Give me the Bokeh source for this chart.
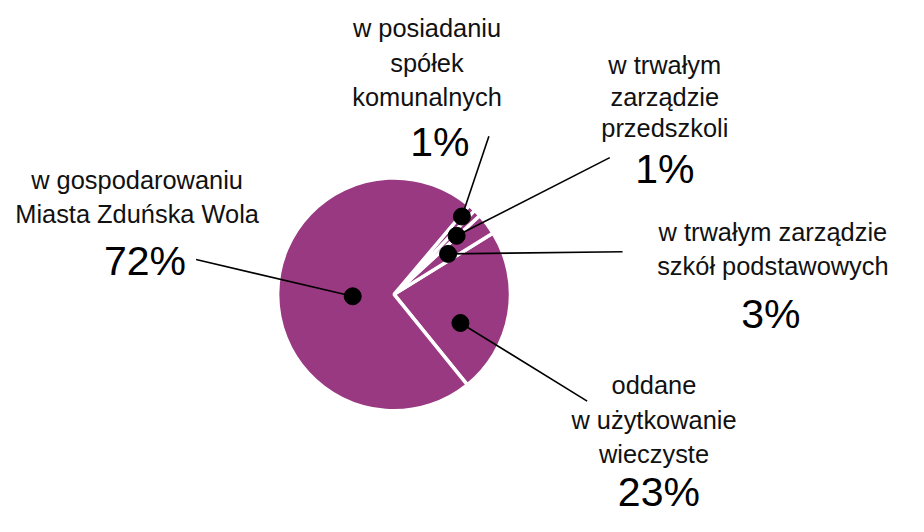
import numpy as np
from bokeh.plotting import figure
from bokeh.models import Range1d, ColumnDataSource
from bokeh.core.properties import value
from bokeh.embed import file_html
from bokeh.resources import INLINE

# ---------------- data ----------------
categories = [
    "oddane w użytkowanie wieczyste",
    "w trwałym zarządzie szkół podstawowych",
    "w trwałym zarządzie przedszkoli",
    "w posiadaniu spółek komunalnych",
    "w gospodarowaniu Miasta Zduńska Wola",
]
label_lines = [
    ["oddane", "w użytkowanie", "wieczyste"],
    ["w trwałym zarządzie", "szkół podstawowych"],
    ["w trwałym", "zarządzie", "przedszkoli"],
    ["w posiadaniu", "spółek", "komunalnych"],
    ["w gospodarowaniu", "Miasta Zduńska Wola"],
]
values = [23, 3, 1, 1, 72]
pct_labels = [f"{v}%" for v in values]

# ---------------- layout (reference pixels, 924 x 532 space) ----------------
W, H = 908, 516
RW, RH = 924, 532
def X(sx): return sx
def Y(sy): return RH - sy

CX, CY, R = 400.5, 303.0, 117.0
START_DEG = -51.0
COLOR = "#993981"
FONT = "Liberation Sans"
SMALL, BIG = "25.4px", "41px"
SMALL_SHIFT, BIG_SHIFT = 8.2, 14.4   # baseline correction of the text renderer

line_x = [665, 786, 676, 434, 139]
line_y0 = [405, 247, 75, 37, 193]
line_step = [35.5, 35, 32.5, 35.5, 35]
pct_x = [670, 784, 676, 447, 147]
pct_y = [521, 338, 188, 160, 283]
lead_x = [597, 633, 620, 497, 199]
lead_y = [413, 259, 162, 140, 267]
dot_off_deg = [-14.0, 0.0, -0.9, 1.3, 3.3]
dot_rfrac = [0.63, 0.59, 0.75, 0.905, 0.36]

# ---------------- geometry from data ----------------
vals = np.array(values, dtype=float)
frac = vals / vals.sum()
ends = np.deg2rad(START_DEG) + np.cumsum(frac) * 2 * np.pi
starts = ends - frac * 2 * np.pi
mids = (starts + ends) / 2

cx, cy = X(CX), Y(CY)
dang = mids + np.deg2rad(dot_off_deg)
dr = np.array(dot_rfrac) * R
dot_x = cx + dr * np.cos(dang)
dot_y = cy + dr * np.sin(dang)

p = figure(width=W, height=H, x_range=Range1d(0, RW), y_range=Range1d(0, RH),
           x_axis_type=None, y_axis_type=None, output_backend="svg",
           toolbar_location=None, min_border=0)
p.grid.visible = False
p.outline_line_color = None
p.background_fill_color = "white"
p.border_fill_color = "white"

wsrc = ColumnDataSource(dict(start=starts, end=ends, cat=categories))
p.wedge(x=cx, y=cy, radius=R + 1.5, start_angle="start", end_angle="end",
        source=wsrc, fill_color=COLOR, line_color="white", line_width=3.5)

p.segment(x0=dot_x, y0=dot_y, x1=[X(v) for v in lead_x], y1=[Y(v) for v in lead_y],
          line_color="black", line_width=1.6)
p.scatter(x=dot_x, y=dot_y, size=17, fill_color="black", line_color="black")

tx, ty, tt = [], [], []
for i, lines in enumerate(label_lines):
    for j, s in enumerate(lines):
        tx.append(X(line_x[i]))
        ty.append(Y(line_y0[i] + j * line_step[i] - SMALL_SHIFT))
        tt.append(s)
p.text(x=tx, y=ty, text=tt, text_font=value(FONT), text_font_size=SMALL,
       text_align="center", text_baseline="alphabetic", text_color="#111111")

p.text(x=[X(v) for v in pct_x], y=[Y(v - BIG_SHIFT) for v in pct_y], text=pct_labels,
       text_font=value(FONT), text_font_size=BIG, text_align="center",
       text_baseline="alphabetic", text_color="#000000")

open("out.html", "w").write(file_html(p, INLINE))
